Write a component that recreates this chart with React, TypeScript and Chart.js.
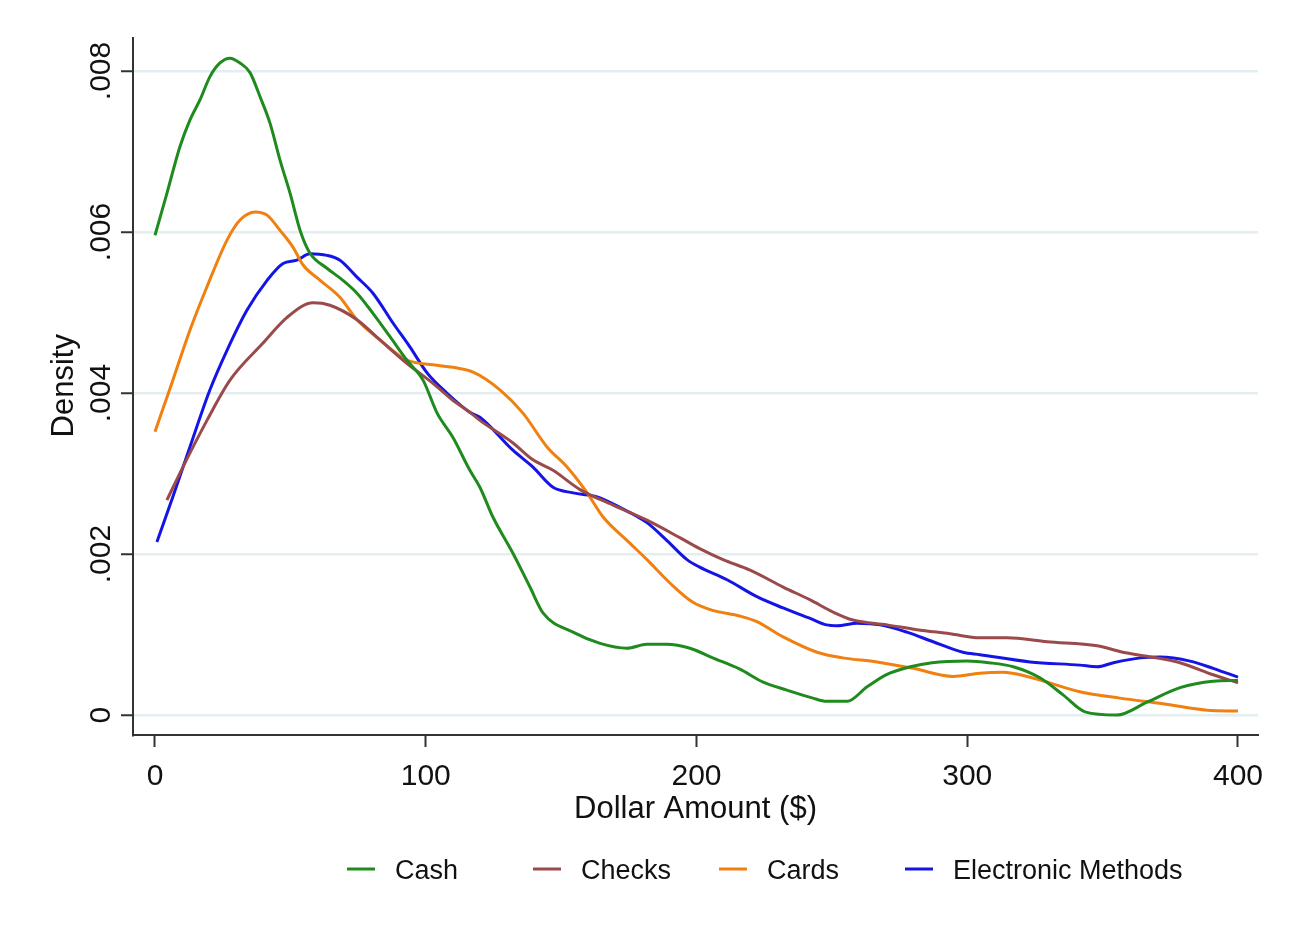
import React, { useEffect, useRef } from "react";
import { Chart, registerables } from "chart.js";

Chart.register(...registerables);

const cashX = [0, 4.4, 9.2, 12.9, 16.6, 20.3, 24, 27.7, 31.4, 35.1, 38.8, 42.5, 46.2, 49.9, 53.6, 57.2, 63.5, 69.4, 74.6, 80.5, 86.8, 93, 99, 104.2, 110, 116.3, 120, 124.8, 132.2, 138.5, 143.3, 154.4, 164.4, 174.3, 181.7, 189, 197.6, 206, 216, 224.6, 233.4, 243, 248, 255.6, 263, 270, 279, 287, 300, 308, 317, 327, 335.4, 343.5, 355.3, 366.4, 378.6, 390.8, 400];
const cashY = [0.00596, 0.00648, 0.00706, 0.00739, 0.00764, 0.00793, 0.0081, 0.00816, 0.0081, 0.00798, 0.00768, 0.00735, 0.00689, 0.00648, 0.00602, 0.00574, 0.00555, 0.0054, 0.00524, 0.00499, 0.0047, 0.00441, 0.00416, 0.00375, 0.00345, 0.00304, 0.00283, 0.00246, 0.00201, 0.00159, 0.00127, 0.00103, 0.00089, 0.00083, 0.00088, 0.00088, 0.00083, 0.00071, 0.00057, 0.00041, 0.00031, 0.00021, 0.00017, 0.00017, 0.00035, 0.0005, 0.0006, 0.00065, 0.00067, 0.00065, 0.0006, 0.00046, 0.00025, 0.00004, 0, 0.00016, 0.00034, 0.00042, 0.00043];

const checksX = [4.4, 10.3, 19.2, 27.7, 39.9, 48.8, 58.4, 64.6, 74.6, 83.1, 93, 102.7, 110, 116.3, 120, 132.2, 139.6, 147, 157, 169, 181.7, 194, 201, 209.8, 219.8, 232, 242, 250.4, 257.8, 270.4, 281.4, 293.6, 304.7, 314.7, 329.5, 348, 357.5, 366.4, 378.6, 390.8, 400];
const checksY = [0.00267, 0.00308, 0.00366, 0.00416, 0.00462, 0.00494, 0.00512, 0.00509, 0.00491, 0.00466, 0.00437, 0.00412, 0.00391, 0.00376, 0.00366, 0.00338, 0.00317, 0.00304, 0.0028, 0.00261, 0.00242, 0.0022, 0.00207, 0.00193, 0.0018, 0.00159, 0.00143, 0.00128, 0.00118, 0.00112, 0.00106, 0.00101, 0.00096, 0.00096, 0.00091, 0.00086, 0.00078, 0.00073, 0.00065, 0.0005, 0.0004];

const cardsX = [0, 6.6, 12.9, 19.2, 26.6, 31.4, 37, 41.4, 46.2, 51, 54.7, 61, 68.3, 74.6, 83.1, 93, 102.7, 110, 117.5, 127.4, 135.9, 144.8, 152.2, 159.6, 165.5, 174.3, 181.7, 190.2, 198.7, 206, 216, 222.3, 232, 244.5, 254, 266.7, 280, 294.7, 304.7, 313.2, 323.2, 341.6, 356.4, 372.3, 388.6, 400];
const cardsY = [0.00352, 0.00416, 0.00478, 0.00532, 0.0059, 0.00615, 0.00625, 0.00621, 0.00602, 0.00581, 0.00559, 0.0054, 0.00519, 0.00491, 0.00466, 0.00441, 0.00435, 0.00432, 0.00426, 0.00404, 0.00375, 0.00333, 0.00308, 0.00276, 0.00246, 0.00217, 0.00193, 0.00164, 0.0014, 0.0013, 0.00123, 0.00116, 0.00097, 0.00078, 0.00071, 0.00066, 0.00058, 0.00048, 0.00052, 0.00053, 0.00047, 0.00029, 0.00021, 0.00014, 0.00006, 0.00005];

const elecX = [0.7, 6.6, 12.9, 20.3, 26.6, 34, 41.4, 47.3, 52.4, 57.2, 63.5, 68.3, 74.6, 80.5, 87.9, 94.2, 100.5, 107.8, 116.3, 120, 132.2, 139.6, 147, 154.4, 163.3, 171.7, 181.7, 189, 196.5, 201, 211.3, 222.3, 232, 242, 248, 252, 259.3, 267.8, 277.7, 287.4, 298.4, 304.7, 323.2, 341.6, 348, 354, 364, 371.2, 382.3, 390.8, 400];
const elecY = [0.00215, 0.00271, 0.00333, 0.00404, 0.00453, 0.00503, 0.0054, 0.00561, 0.00565, 0.00573, 0.00571, 0.00565, 0.00544, 0.00524, 0.00487, 0.00457, 0.00425, 0.004, 0.00376, 0.0037, 0.00329, 0.00308, 0.00283, 0.00276, 0.00271, 0.00258, 0.00239, 0.00217, 0.00193, 0.00184, 0.00168, 0.00147, 0.00133, 0.0012, 0.00112, 0.00111, 0.00114, 0.00112, 0.00103, 0.00091, 0.00078, 0.00075, 0.00066, 0.00062, 0.0006, 0.00065, 0.00071, 0.00072, 0.00067, 0.00058, 0.00047];

const seriesNames = ["Cash", "Checks", "Cards", "Electronic Methods"];
const seriesColors = ["#1f8b1f", "#9a4a4a", "#f08010", "#1414e6"];
const xTicks = [0, 100, 200, 300, 400];
const yTicks = [0, 0.002, 0.004, 0.006, 0.008];
const yTickLabels = ["0", ".002", ".004", ".006", ".008"];
const xTitle = "Dollar Amount ($)";
const yTitle = "Density";

const FONT = "'Liberation Sans', Arial, sans-serif";
const TEXT = "#111111";

const zip = (xs: number[], ys: number[]) => xs.map((x, i) => ({ x, y: ys[i] }));

const textPlugin = {
  id: "stataText",
  afterDraw(chart: any) {
    const ctx = chart.ctx as CanvasRenderingContext2D;
    const xs = chart.scales.x;
    const ys = chart.scales.y;
    const area = chart.chartArea;
    ctx.save();
    ctx.fillStyle = TEXT;
    // x tick labels
    ctx.font = `30px ${FONT}`;
    ctx.textAlign = "center";
    ctx.textBaseline = "alphabetic";
    xTicks.forEach((v) => {
      ctx.fillText(String(v), xs.getPixelForValue(v), area.bottom + 50);
    });
    // y tick labels (rotated)
    yTicks.forEach((v, i) => {
      const py = ys.getPixelForValue(v);
      ctx.save();
      ctx.translate(area.left - 23, py);
      ctx.rotate(-Math.PI / 2);
      ctx.fillText(yTickLabels[i], 0, 0);
      ctx.restore();
    });
    // axis titles
    ctx.font = `31px ${FONT}`;
    ctx.fillText(xTitle, (area.left + area.right) / 2, area.bottom + 83);
    ctx.save();
    ctx.translate(area.left - 60, ys.getPixelForValue(0.00409));
    ctx.rotate(-Math.PI / 2);
    ctx.fillText(yTitle, 0, 0);
    ctx.restore();
    // legend
    ctx.font = `27px ${FONT}`;
    ctx.textAlign = "left";
    const legendY = area.bottom + 134;
    const startX = 347;
    const step = 186;
    seriesNames.forEach((name, i) => {
      const lx = startX + i * step;
      ctx.strokeStyle = seriesColors[i];
      ctx.lineWidth = 3;
      ctx.beginPath();
      ctx.moveTo(lx, legendY);
      ctx.lineTo(lx + 28, legendY);
      ctx.stroke();
      ctx.fillStyle = TEXT;
      ctx.fillText(name, lx + 48, legendY + 10);
    });
    ctx.restore();
  },
};

export default function App() {
  const ref = useRef<HTMLCanvasElement | null>(null);
  useEffect(() => {
    if (!ref.current) return;
    const seriesData = [zip(cashX, cashY), zip(checksX, checksY), zip(cardsX, cardsY), zip(elecX, elecY)];
    const chart = new Chart(ref.current, {
      type: "scatter",
      data: {
        datasets: seriesNames.map((name, i) => ({
          label: name,
          data: seriesData[i],
          showLine: true,
          borderColor: seriesColors[i],
          backgroundColor: seriesColors[i],
          borderWidth: 3,
          pointRadius: 0,
          pointHoverRadius: 0,
          cubicInterpolationMode: "monotone" as const,
          fill: false,
        })),
      },
      options: {
        animation: false,
        responsive: true,
        maintainAspectRatio: false,
        layout: { padding: { left: 0, right: 33, top: 38, bottom: 0 } },
        plugins: {
          legend: { display: false },
          tooltip: { enabled: false },
        },
        scales: {
          x: {
            type: "linear",
            min: -8.125,
            max: 407.39,
            afterBuildTicks: (s: any) => {
              s.ticks = xTicks.map((v) => ({ value: v }));
            },
            afterFit: (s: any) => {
              s.height = 204;
            },
            ticks: { display: false },
            grid: {
              drawOnChartArea: false,
              drawTicks: true,
              tickLength: 12,
              tickColor: "#333333",
              tickWidth: 2,
            },
            border: { display: true, color: "#333333", width: 2 },
          },
          y: {
            type: "linear",
            min: -0.000248,
            max: 0.00841,
            afterBuildTicks: (s: any) => {
              s.ticks = yTicks.map((v) => ({ value: v }));
            },
            afterFit: (s: any) => {
              s.width = 133;
            },
            ticks: { display: false },
            grid: {
              color: "#e4eef1",
              lineWidth: 2.5,
              drawTicks: true,
              tickLength: 12,
              tickColor: "#333333",
              tickWidth: 2,
            },
            border: { display: true, color: "#333333", width: 2 },
          },
        },
      },
      plugins: [textPlugin],
    });
    return () => chart.destroy();
  }, []);
  return (
    <div style={{ position: "absolute", left: 0, top: 0, width: 1291, height: 939, background: "#ffffff" }}>
      <canvas ref={ref} />
    </div>
  );
}
